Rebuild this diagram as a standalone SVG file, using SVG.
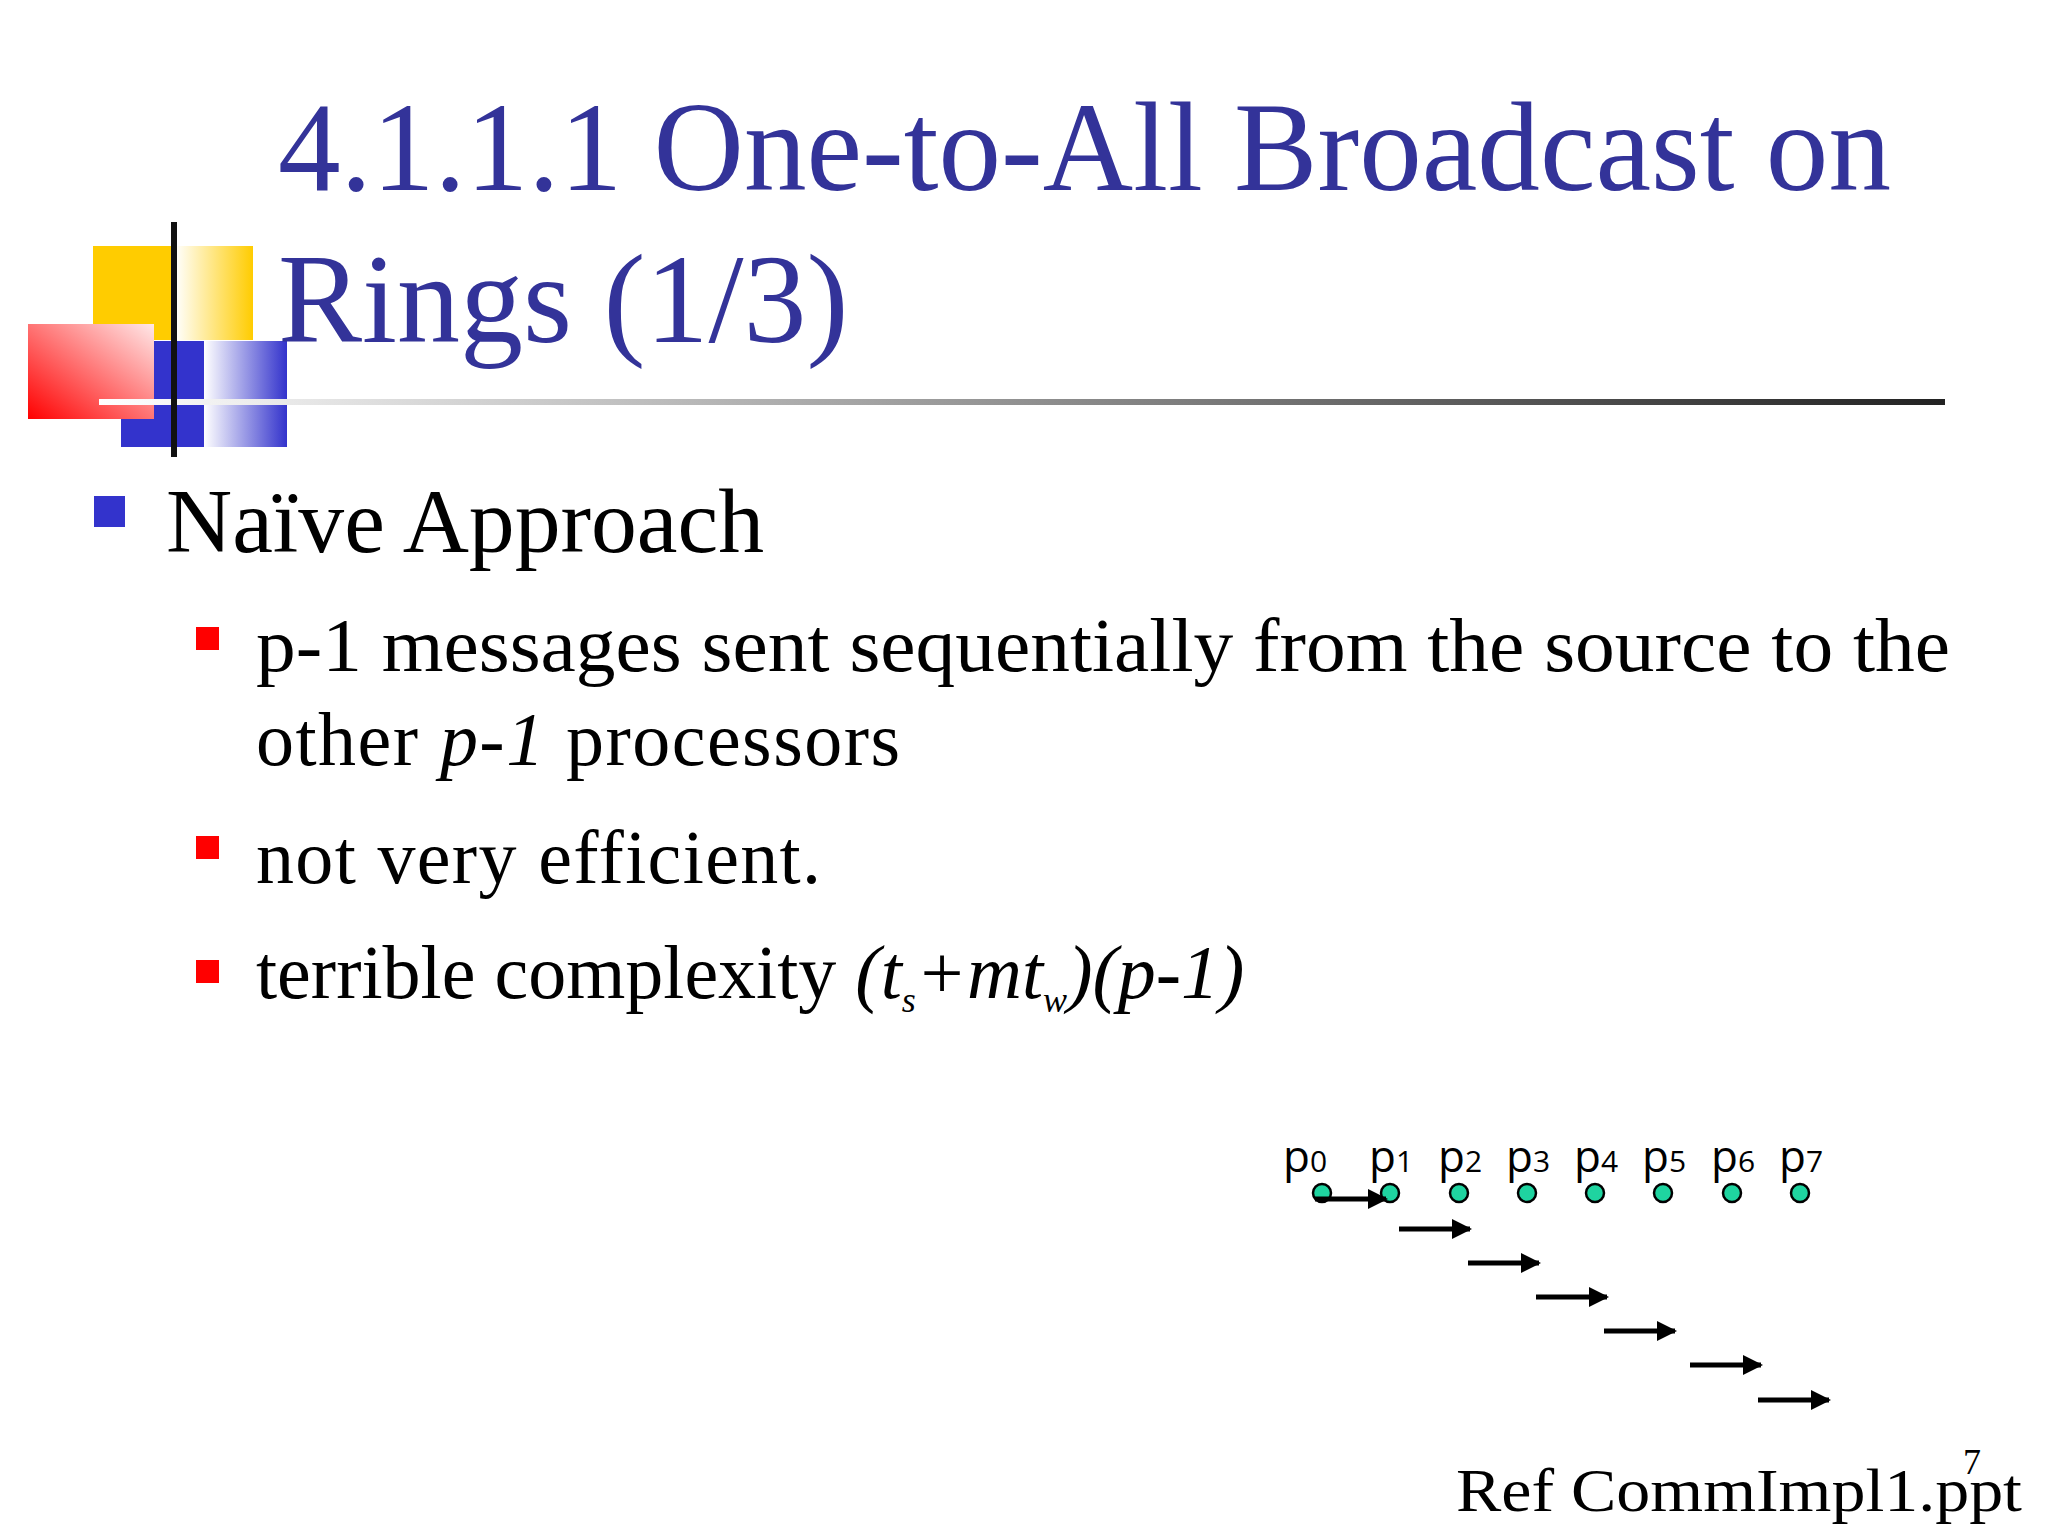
<svg xmlns="http://www.w3.org/2000/svg" width="2048" height="1536" viewBox="0 0 2048 1536">
<defs>
<linearGradient id="gy" x1="0" x2="1"><stop offset="0" stop-color="#fff"/><stop offset="1" stop-color="#ffcc00"/></linearGradient>
<linearGradient id="gb" x1="0" x2="1"><stop offset="0" stop-color="#fff"/><stop offset="1" stop-color="#3333cc"/></linearGradient>
<linearGradient id="gr" x1="0" y1="1" x2="1" y2="0"><stop offset="0" stop-color="#ff0000"/><stop offset="1" stop-color="#ffe8e8"/></linearGradient>
<linearGradient id="gl" x1="0" x2="1"><stop offset="0" stop-color="#fff"/><stop offset="1" stop-color="#222"/></linearGradient>
<marker id="ah" viewBox="0 0 10 10" refX="9" refY="5" markerWidth="4" markerHeight="4" orient="auto" markerUnits="strokeWidth"><path d="M0,0 L10,5 L0,10 z" fill="#000"/></marker>
<style>
.t{font-family:"Liberation Serif",serif;fill:#333399}
.b{font-family:"Liberation Serif",serif;fill:#000}
.l{font-family:"Open Sans","DejaVu Sans",sans-serif;font-size:44px;fill:#000}
.s{font-size:30px}
.n{fill:#1fd4a0;stroke:#000;stroke-width:2.5}
.a{stroke:#000;stroke-width:5;marker-end:url(#ah)}
</style>
</defs>
<rect width="2048" height="1536" fill="#fff"/>
<g id="logo">
<rect x="93" y="246" width="82" height="94" fill="#ffcc00"/>
<rect x="175" y="246" width="78" height="94" fill="url(#gy)"/>
<rect x="121" y="341" width="83" height="106" fill="#3333cc"/>
<rect x="204" y="341" width="83" height="106" fill="url(#gb)"/>
<rect x="28" y="324" width="126" height="95" fill="url(#gr)"/>
<rect x="99" y="399" width="1846" height="6" fill="url(#gl)"/>
<rect x="171" y="222" width="6" height="235" fill="#111"/>
</g>
<g id="title">
<text class="t" x="278" y="190" font-size="126" textLength="1613" lengthAdjust="spacingAndGlyphs">4.1.1.1 One-to-All Broadcast on</text>
<text class="t" x="278" y="342" font-size="126">Rings (1/3)</text>
</g>
<g id="bullets">
<rect x="94" y="496" width="31" height="31" fill="#3333cc"/>
<text class="b" x="166" y="552" font-size="90" textLength="598" lengthAdjust="spacingAndGlyphs">Naïve Approach</text>
<rect x="196" y="627" width="23" height="23" fill="#ff0000"/>
<text class="b" x="256" y="671" font-size="76" textLength="1694" lengthAdjust="spacingAndGlyphs">p-1 messages sent sequentially from the source to the</text>
<text class="b" x="256" y="765" font-size="76" textLength="644" lengthAdjust="spacing">other <tspan font-style="italic">p-1</tspan> processors</text>
<rect x="196" y="836" width="23" height="23" fill="#ff0000"/>
<text class="b" x="256" y="883" font-size="76" textLength="565" lengthAdjust="spacing">not very efficient.</text>
<rect x="196" y="960" width="23" height="23" fill="#ff0000"/>
<text class="b" x="256" y="998" font-size="76">terrible complexity  <tspan font-style="italic">(t<tspan font-size="36" dy="14">s</tspan><tspan dy="-14">+mt</tspan><tspan font-size="36" dy="14">w</tspan><tspan dy="-14">)(p-1)</tspan></tspan></text>
</g>
<g id="labels">
<text class="l" x="1283" y="1172">p<tspan class="s">0</tspan></text>
<text class="l" x="1369" y="1172">p<tspan class="s">1</tspan></text>
<text class="l" x="1438" y="1172">p<tspan class="s">2</tspan></text>
<text class="l" x="1506" y="1172">p<tspan class="s">3</tspan></text>
<text class="l" x="1574" y="1172">p<tspan class="s">4</tspan></text>
<text class="l" x="1642" y="1172">p<tspan class="s">5</tspan></text>
<text class="l" x="1711" y="1172">p<tspan class="s">6</tspan></text>
<text class="l" x="1779" y="1172">p<tspan class="s">7</tspan></text>
</g>
<g id="nodes">
<circle id="n0" class="n" cx="1322" cy="1193" r="9"/>
<circle id="n1" class="n" cx="1390" cy="1193" r="9"/>
<circle id="n2" class="n" cx="1459" cy="1193" r="9"/>
<circle id="n3" class="n" cx="1527" cy="1193" r="9"/>
<circle id="n4" class="n" cx="1595" cy="1193" r="9"/>
<circle id="n5" class="n" cx="1663" cy="1193" r="9"/>
<circle id="n6" class="n" cx="1732" cy="1193" r="9"/>
<circle id="n7" class="n" cx="1800" cy="1193" r="9"/>
</g>
<g id="connectors">
<line class="a" x1="1315" y1="1199" x2="1386" y2="1199"/>
<line class="a" x1="1399" y1="1229" x2="1470" y2="1229"/>
<line class="a" x1="1468" y1="1263" x2="1539" y2="1263"/>
<line class="a" x1="1536" y1="1297" x2="1607" y2="1297"/>
<line class="a" x1="1604" y1="1331" x2="1675" y2="1331"/>
<line class="a" x1="1690" y1="1365" x2="1761" y2="1365"/>
<line class="a" x1="1758" y1="1400" x2="1829" y2="1400"/>
</g>
<g id="footer">
<text class="b" x="1456" y="1511" font-size="62" textLength="566" lengthAdjust="spacingAndGlyphs">Ref CommImpl1.ppt</text>
<text class="b" x="1963" y="1474" font-size="36">7</text>
</g>
</svg>
